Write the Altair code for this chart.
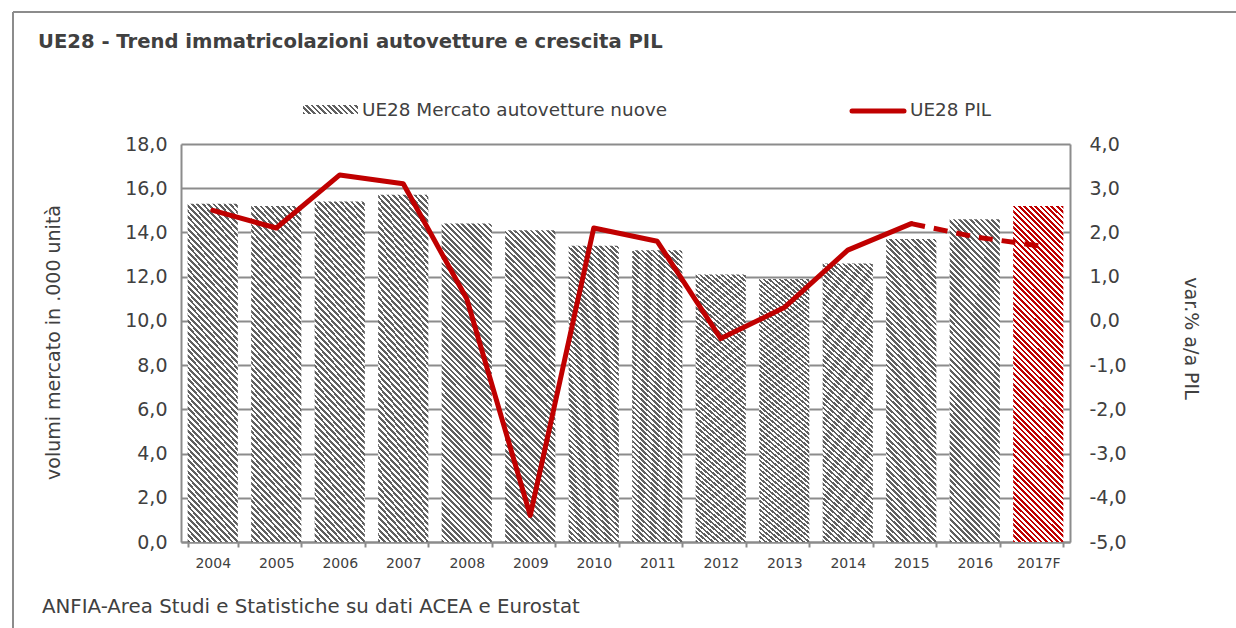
import math
import altair as alt
import pandas as pd

# ---- data ----
years = ["2004", "2005", "2006", "2007", "2008", "2009", "2010",
         "2011", "2012", "2013", "2014", "2015", "2016", "2017F"]
market = [15.3, 15.2, 15.4, 15.7, 14.4, 14.1, 13.4,
          13.2, 12.1, 11.9, 12.6, 13.7, 14.6, 15.2]
gdp = [2.5, 2.1, 3.3, 3.1, 0.5, -4.4, 2.1,
       1.8, -0.4, 0.3, 1.6, 2.2, 1.9, 1.7]
left_ticks = [0, 2, 4, 6, 8, 10, 12, 14, 16, 18]
right_ticks = [-5, -4, -3, -2, -1, 0, 1, 2, 3, 4]

TITLE = "UE28 - Trend immatricolazioni autovetture e crescita PIL"
SOURCE = "ANFIA-Area Studi e Statistiche su dati ACEA e Eurostat"
LEG_BAR = "UE28 Mercato autovetture nuove"
LEG_LINE = "UE28 PIL"
YL_TITLE = "volumi mercato in .000 unità"
YR_TITLE = "var.% a/a PIL"

FONT = "DejaVu Sans"
TXT = "#404040"
GRID = "#8c8c8c"
RED = "#c00000"
DARK = "#606060"

W, H = 889, 398
PAD_L, PAD_T = 181, 144


def hatch(w, h, dark, light="#ffffff", period_h=5.4):
    """Diagonal '\\' stripes as a hard-stop linear gradient (bbox units)."""
    L = (w + h) / math.sqrt(2)
    p = period_h / math.sqrt(2)
    n = int(L / p) + 1
    s = (w + h) * w * h / (w * w + h * h)
    stops = []
    for i in range(n):
        a = min(1.0, i * p / L)
        b = min(1.0, (i + 0.5) * p / L)
        c = min(1.0, (i + 1) * p / L)
        stops += [alt.GradientStop(offset=a, color=dark),
                  alt.GradientStop(offset=b, color=dark),
                  alt.GradientStop(offset=b, color=light),
                  alt.GradientStop(offset=c, color=light)]
    return alt.LinearGradient(gradient="linear", stops=stops,
                              x1=0, y1=1, x2=s / h, y2=1 - s / w)


df = pd.DataFrame({"year": years, "market": market, "gdp": gdp})
df["idx"] = range(len(years))
solid_df = df[df["idx"] <= 11]
dash_df = df[df["idx"] >= 11]

fmt = "replace(replace(format(datum.value, '.1f'), '.', ','), '\u2212', '-')"

xenc = alt.X("year:N", sort=years,
             scale=alt.Scale(paddingInner=0.21, paddingOuter=0.105),
             axis=alt.Axis(title=None, labelAngle=0, labelFont=FONT,
                           labelFontSize=14, labelColor=TXT, labelPadding=9,
                           ticks=True, tickBand="extent", tickSize=5,
                           tickColor=GRID, tickWidth=2,
                           domainColor=GRID, domainWidth=2, grid=False))

yleft = alt.Y("market:Q",
              scale=alt.Scale(domain=[0, 18], nice=False, zero=True),
              axis=alt.Axis(values=left_ticks, labelExpr=fmt, grid=True,
                            gridColor=GRID, gridWidth=2, ticks=False,
                            domainColor=GRID, domainWidth=2,
                            labelFont=FONT, labelFontSize=19, labelColor=TXT,
                            labelPadding=14,
                            title=YL_TITLE, titleFont=FONT, titleFontSize=19,
                            titleFontWeight="normal", titleColor=TXT,
                            titleAngle=270, titleX=-128, titleY=198,
                            titleAlign="center", titleBaseline="middle"))

yright = alt.Y("gdp:Q",
               scale=alt.Scale(domain=[-5, 4], nice=False, zero=False),
               axis=alt.Axis(values=right_ticks, labelExpr=fmt, grid=False,
                             orient="right", ticks=False,
                             domainColor=GRID, domainWidth=2,
                             labelFont=FONT, labelFontSize=19, labelColor=TXT,
                             labelPadding=19,
                             title=YR_TITLE, titleFont=FONT, titleFontSize=19,
                             titleFontWeight="normal", titleColor=TXT,
                             titleAngle=90, titleX=120, titleY=194,
                             titleAlign="center", titleBaseline="middle"))

base = alt.Chart(df)

bars_gray = base.transform_filter(alt.datum.idx < 13).mark_bar(
    fill=hatch(50, 316, DARK)).encode(x=xenc, y=yleft)
bars_red = base.transform_filter(alt.datum.idx == 13).mark_bar(
    fill=hatch(50, 336, RED)).encode(x=xenc, y=yleft)

one = alt.Chart(pd.DataFrame({"k": [0]}))

frame_left = one.mark_rule(color=GRID, strokeWidth=2).encode(
    x=alt.value(13 - PAD_L), y=alt.value(12 - PAD_T), y2=alt.value(628 - PAD_T))
frame_top = one.mark_rule(color=GRID, strokeWidth=2).encode(
    x=alt.value(13 - PAD_L), x2=alt.value(1236 - PAD_L), y=alt.value(12 - PAD_T))

title_t = one.mark_text(text=TITLE, font=FONT, fontSize=19.6, fontWeight="bold",
                        color=TXT, align="left", baseline="alphabetic").encode(
    x=alt.value(38 - PAD_L), y=alt.value(48 - PAD_T))
source_t = one.mark_text(text=SOURCE, font=FONT, fontSize=19.8, color=TXT,
                         align="left", baseline="middle").encode(
    x=alt.value(42 - PAD_L), y=alt.value(607 - PAD_T))

leg_sw = one.mark_rect(fill=hatch(55, 9, DARK)).encode(
    x=alt.value(303 - PAD_L), x2=alt.value(358 - PAD_L),
    y=alt.value(105 - PAD_T), y2=alt.value(114 - PAD_T))
leg_bar_t = one.mark_text(text=LEG_BAR, font=FONT, fontSize=18.4, color=TXT,
                          align="left", baseline="middle").encode(
    x=alt.value(362 - PAD_L), y=alt.value(110 - PAD_T))
leg_line = one.mark_rule(color=RED, strokeWidth=5, strokeCap="round").encode(
    x=alt.value(852 - PAD_L), x2=alt.value(904 - PAD_L), y=alt.value(111 - PAD_T))
leg_line_t = one.mark_text(text=LEG_LINE, font=FONT, fontSize=18.4, color=TXT,
                           align="left", baseline="middle").encode(
    x=alt.value(910 - PAD_L), y=alt.value(110 - PAD_T))

left_group = alt.layer(bars_gray, bars_red, frame_left, frame_top, title_t,
                       source_t, leg_sw, leg_bar_t, leg_line, leg_line_t)

line_solid = alt.Chart(solid_df).mark_line(
    color=RED, strokeWidth=5, strokeJoin="round", strokeCap="round").encode(
    x=xenc, y=yright)
line_dash = alt.Chart(dash_df).mark_line(
    color=RED, strokeWidth=5, strokeDash=[14, 9], strokeJoin="round").encode(
    x=xenc, y=yright)
right_group = alt.layer(line_solid, line_dash)

chart = alt.layer(left_group, right_group).resolve_scale(
    y="independent"
).properties(
    width=W, height=H,
    autosize=alt.AutoSizeParams(type="none"),
    padding={"left": PAD_L, "top": PAD_T, "right": 1236 - PAD_L - W,
             "bottom": 628 - PAD_T - H},
    background="white",
).configure_view(stroke=None)

chart.save("out.html", embed_options={"renderer": "svg", "actions": False})
